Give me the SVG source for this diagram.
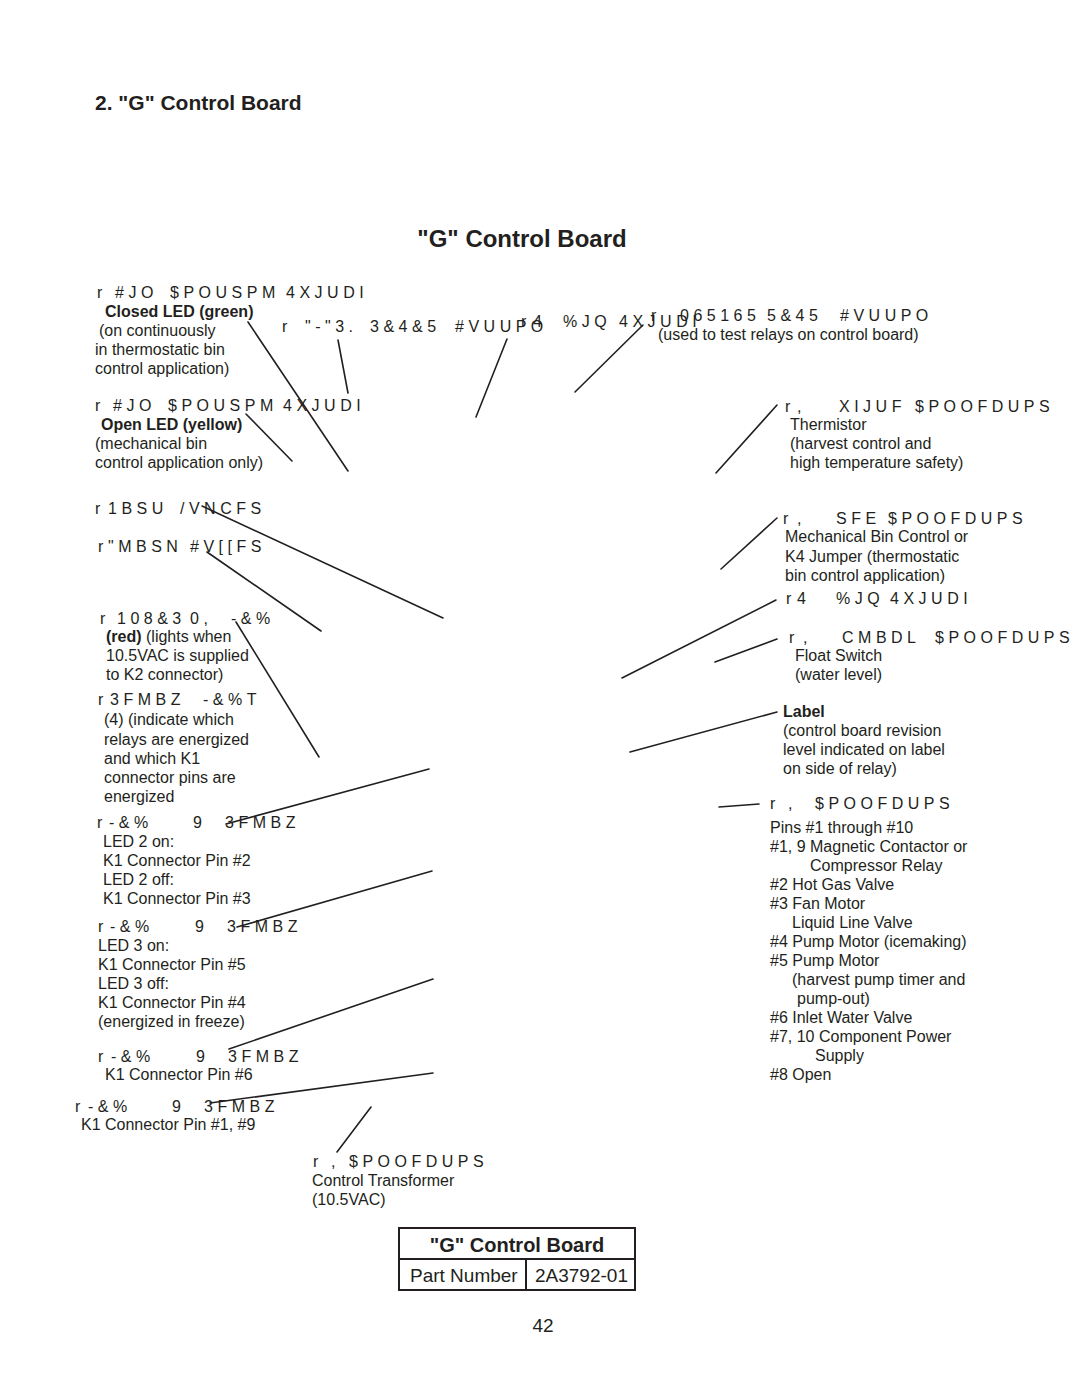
<svg xmlns="http://www.w3.org/2000/svg" width="1080" height="1397" viewBox="0 0 1080 1397">
<style>
text{font-family:"Liberation Sans",Arial,Helvetica,sans-serif;fill:#231f20;}
.t{font-size:16px;}
.b{font-size:16px;font-weight:bold;}
.g{font-size:16px;letter-spacing:4.5px;}
.h{font-weight:bold;}
.ln{stroke:#231f20;stroke-width:1.6;stroke-linecap:round;fill:none;}
.box{stroke:#231f20;stroke-width:2;fill:none;}
</style>
<rect x="0" y="0" width="1080" height="1397" fill="#ffffff"/>

<g id="header">
<text class="h" x="95" y="110" font-size="21">2. "G" Control Board</text>
<text class="h" x="522" y="247" font-size="24" text-anchor="middle">"G" Control Board</text>
</g>

<g id="connectors">
<line class="ln" x1="248" y1="322" x2="348" y2="471"/>
<line class="ln" x1="338" y1="340" x2="348" y2="393"/>
<line class="ln" x1="246" y1="414" x2="292" y2="461"/>
<line class="ln" x1="507" y1="339" x2="476" y2="417"/>
<line class="ln" x1="643" y1="325" x2="575" y2="392"/>
<line class="ln" x1="777" y1="405" x2="716" y2="473"/>
<line class="ln" x1="202" y1="506" x2="443" y2="618"/>
<line class="ln" x1="207" y1="552" x2="321" y2="631"/>
<line class="ln" x1="236" y1="622" x2="319" y2="757"/>
<line class="ln" x1="429" y1="769" x2="226" y2="824"/>
<line class="ln" x1="432" y1="871" x2="237" y2="927"/>
<line class="ln" x1="433" y1="979" x2="229" y2="1049"/>
<line class="ln" x1="433" y1="1073" x2="210" y2="1103"/>
<line class="ln" x1="371" y1="1107" x2="337" y2="1152"/>
<line class="ln" x1="777" y1="518" x2="721" y2="569"/>
<line class="ln" x1="776" y1="600" x2="622" y2="678"/>
<line class="ln" x1="777" y1="639" x2="715" y2="662"/>
<line class="ln" x1="777" y1="712" x2="630" y2="752"/>
<line class="ln" x1="759" y1="804" x2="719" y2="807"/>
</g>

<g id="node-closed-led">
<text class="g" y="298"><tspan x="97">r </tspan><tspan x="115">#JO </tspan><tspan x="170">$POUSPM </tspan><tspan x="286">4XJUDI</tspan></text>
<text class="b" x="105" y="317">Closed LED (green)</text>
<text class="t" x="99" y="336">(on continuously</text>
<text class="t" x="95" y="355">in thermostatic bin</text>
<text class="t" x="95" y="374">control application)</text>
</g>

<g id="node-alarm-reset">
<text class="g" y="332"><tspan x="282">r </tspan><tspan x="305">"-"3. </tspan><tspan x="370">3&amp;4&amp;5 </tspan><tspan x="455">#VUUPO</tspan></text>
</g>

<g id="node-s1-dip">
<text class="g" y="327"><tspan x="521">r </tspan><tspan x="533">4 </tspan><tspan x="563">%JQ </tspan><tspan x="619">4XJUDI</tspan></text>
</g>

<g id="node-output-test">
<text class="g" y="321"><tspan x="651">r </tspan><tspan x="680">065165 </tspan><tspan x="767">5&amp;45 </tspan><tspan x="840">#VUUPO</tspan></text>
<text class="t" x="658" y="340">(used to test relays on control board)</text>
</g>

<g id="node-open-led">
<text class="g" y="411"><tspan x="95">r </tspan><tspan x="113">#JO </tspan><tspan x="168">$POUSPM </tspan><tspan x="283">4XJUDI</tspan></text>
<text class="b" x="101" y="430">Open LED (yellow)</text>
<text class="t" x="95" y="449">(mechanical bin</text>
<text class="t" x="95" y="468">control application only)</text>
</g>

<g id="node-k3-white">
<text class="g" y="412"><tspan x="785">r </tspan><tspan x="797">, </tspan><tspan x="839">XIJUF </tspan><tspan x="915">$POOFDUPS</tspan></text>
<text class="t" x="790" y="430">Thermistor</text>
<text class="t" x="790" y="449">(harvest control and</text>
<text class="t" x="790" y="468">high temperature safety)</text>
</g>

<g id="node-part-number">
<text class="g" y="514"><tspan x="95">r </tspan><tspan x="108">1BSU </tspan><tspan x="180">/VNCFS</tspan></text>
</g>

<g id="node-alarm-buzzer">
<text class="g" y="552"><tspan x="98">r </tspan><tspan x="108">"MBSN </tspan><tspan x="190">#V[[FS</tspan></text>
</g>

<g id="node-power-ok">
<text class="g" y="624"><tspan x="100">r </tspan><tspan x="117">108&amp;3 </tspan><tspan x="190">0, </tspan><tspan x="231">-&amp;%</tspan></text>
<text class="t" x="106" y="642"><tspan font-weight="bold">(red)</tspan> (lights when</text>
<text class="t" x="106" y="661">10.5VAC is supplied</text>
<text class="t" x="106" y="680">to K2 connector)</text>
</g>

<g id="node-relay-leds">
<text class="g" y="705"><tspan x="98">r </tspan><tspan x="110">3FMBZ </tspan><tspan x="203">-&amp;%T</tspan></text>
<text class="t" x="104" y="725">(4) (indicate which</text>
<text class="t" x="104" y="745">relays are energized</text>
<text class="t" x="104" y="764">and which K1</text>
<text class="t" x="104" y="783">connector pins are</text>
<text class="t" x="104" y="802">energized</text>
</g>

<g id="node-led4">
<text class="g" y="828"><tspan x="97">r </tspan><tspan x="109">-&amp;% </tspan><tspan x="193">9 </tspan><tspan x="225">3FMBZ</tspan></text>
<text class="t" x="103" y="847">LED 2 on:</text>
<text class="t" x="103" y="866">K1 Connector Pin #2</text>
<text class="t" x="103" y="885">LED 2 off:</text>
<text class="t" x="103" y="904">K1 Connector Pin #3</text>
</g>

<g id="node-led3">
<text class="g" y="932"><tspan x="98">r </tspan><tspan x="110">-&amp;% </tspan><tspan x="195">9 </tspan><tspan x="227">3FMBZ</tspan></text>
<text class="t" x="98" y="951">LED 3 on:</text>
<text class="t" x="98" y="970">K1 Connector Pin #5</text>
<text class="t" x="98" y="989">LED 3 off:</text>
<text class="t" x="98" y="1008">K1 Connector Pin #4</text>
<text class="t" x="98" y="1027">(energized in freeze)</text>
</g>

<g id="node-led2">
<text class="g" y="1062"><tspan x="98">r </tspan><tspan x="111">-&amp;% </tspan><tspan x="196">9 </tspan><tspan x="228">3FMBZ</tspan></text>
<text class="t" x="105" y="1080">K1 Connector Pin #6</text>
</g>

<g id="node-led1">
<text class="g" y="1112"><tspan x="75">r </tspan><tspan x="88">-&amp;% </tspan><tspan x="172">9 </tspan><tspan x="204">3FMBZ</tspan></text>
<text class="t" x="81" y="1130">K1 Connector Pin #1, #9</text>
</g>

<g id="node-k2">
<text class="g" y="1167"><tspan x="313">r </tspan><tspan x="331">, </tspan><tspan x="349">$POOFDUPS</tspan></text>
<text class="t" x="312" y="1186">Control Transformer</text>
<text class="t" x="312" y="1205">(10.5VAC)</text>
</g>

<g id="node-k4-red">
<text class="g" y="524"><tspan x="783">r </tspan><tspan x="797">, </tspan><tspan x="836">SFE </tspan><tspan x="888">$POOFDUPS</tspan></text>
<text class="t" x="785" y="542">Mechanical Bin Control or</text>
<text class="t" x="785" y="562">K4 Jumper (thermostatic</text>
<text class="t" x="785" y="581">bin control application)</text>
</g>

<g id="node-s2-dip">
<text class="g" y="604"><tspan x="786">r </tspan><tspan x="797">4 </tspan><tspan x="836">%JQ </tspan><tspan x="890">4XJUDI</tspan></text>
</g>

<g id="node-k5-black">
<text class="g" y="643"><tspan x="789">r </tspan><tspan x="803">, </tspan><tspan x="842">CMBDL </tspan><tspan x="935">$POOFDUPS</tspan></text>
<text class="t" x="795" y="661">Float Switch</text>
<text class="t" x="795" y="680">(water level)</text>
</g>

<g id="node-label">
<text class="b" x="783" y="717">Label</text>
<text class="t" x="783" y="736">(control board revision</text>
<text class="t" x="783" y="755">level indicated on label</text>
<text class="t" x="783" y="774">on side of relay)</text>
</g>

<g id="node-k1">
<text class="g" y="809"><tspan x="770">r </tspan><tspan x="788">, </tspan><tspan x="815">$POOFDUPS</tspan></text>
<text class="t" x="770" y="833">Pins #1 through #10</text>
<text class="t" x="770" y="852">#1, 9 Magnetic Contactor or</text>
<text class="t" x="810" y="871">Compressor Relay</text>
<text class="t" x="770" y="890">#2 Hot Gas Valve</text>
<text class="t" x="770" y="909">#3 Fan Motor</text>
<text class="t" x="792" y="928">Liquid Line Valve</text>
<text class="t" x="770" y="947">#4 Pump Motor (icemaking)</text>
<text class="t" x="770" y="966">#5 Pump Motor</text>
<text class="t" x="792" y="985">(harvest pump timer and</text>
<text class="t" x="797" y="1004">pump-out)</text>
<text class="t" x="770" y="1023">#6 Inlet Water Valve</text>
<text class="t" x="770" y="1042">#7, 10 Component Power</text>
<text class="t" x="815" y="1061">Supply</text>
<text class="t" x="770" y="1080">#8 Open</text>
</g>

<g id="node-table">
<rect class="box" x="399" y="1228" width="236" height="62"/>
<line class="box" x1="399" y1="1259" x2="635" y2="1259"/>
<line class="box" x1="526" y1="1259" x2="526" y2="1290"/>
<text class="h" x="517" y="1252" font-size="20" text-anchor="middle">"G" Control Board</text>
<text x="410" y="1282" font-size="19">Part Number</text>
<text x="535" y="1282" font-size="19">2A3792-01</text>
</g>

<g id="page-number">
<text x="543" y="1332" font-size="19" text-anchor="middle">42</text>
</g>
</svg>
